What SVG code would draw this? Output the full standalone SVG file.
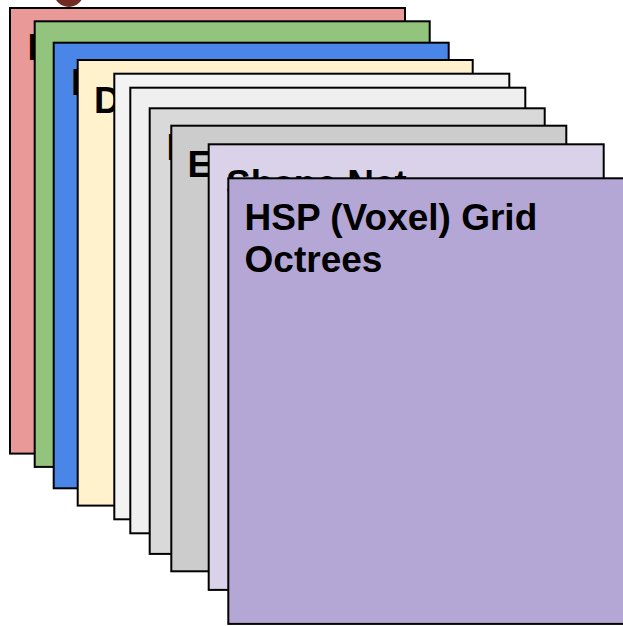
<svg xmlns="http://www.w3.org/2000/svg" width="623" height="626" viewBox="0 0 623 626">
  <style>
    .card { stroke: #000000; stroke-width: 2; }
    .label { font-family: "Liberation Sans", Arial, sans-serif; font-weight: bold; font-size: 37px; fill: #000000; }
  </style>
  <rect x="0" y="0" width="623" height="626" fill="#ffffff"/>
  <!-- pin peeking above the stack -->
  <circle cx="68.8" cy="-8" r="15" fill="#722b22"/>
  <g id="card-1">
    <rect class="card" x="10" y="8" width="395" height="445.6" fill="#ea9999"/>
    <text class="label" x="27.5" y="60">I</text>
  </g>
  <g id="card-2">
    <rect class="card" x="34.7" y="21.3" width="395" height="445.6" fill="#93c47d"/>
  </g>
  <g id="card-3">
    <rect class="card" x="53.7" y="42.7" width="395" height="445.6" fill="#4a86e8"/>
    <text class="label" x="71" y="94.5">I</text>
  </g>
  <g id="card-4">
    <rect class="card" x="77.7" y="60" width="395" height="445.6" fill="#fff2cc"/>
    <text class="label" x="94" y="112.5">D</text>
  </g>
  <g id="card-5">
    <rect class="card" x="114.3" y="73.7" width="395" height="445.6" fill="#f3f3f3"/>
  </g>
  <g id="card-6">
    <rect class="card" x="130.3" y="87.7" width="395" height="445.6" fill="#efefef"/>
  </g>
  <g id="card-7">
    <rect class="card" x="149.7" y="108.3" width="395" height="445.6" fill="#d9d9d9"/>
    <text class="label" x="166.4" y="160.3">I</text>
  </g>
  <g id="card-8">
    <rect class="card" x="171.3" y="125.7" width="395" height="445.6" fill="#cccccc"/>
    <text class="label" x="187.6" y="176.8">E</text>
  </g>
  <g id="card-9">
    <rect class="card" x="208.7" y="144.3" width="395" height="445.6" fill="#d9d2e9"/>
    <text class="label" x="226" y="196.3">Shape Net</text>
  </g>
  <g id="card-10">
    <rect class="card" x="228.3" y="178.3" width="400" height="445.6" fill="#b4a7d6"/>
    <text class="label" x="244.6" y="230">HSP (Voxel) Grid<tspan x="244.6" dy="41.5">Octrees</tspan></text>
  </g>
  <g id="connectors"/>
</svg>
